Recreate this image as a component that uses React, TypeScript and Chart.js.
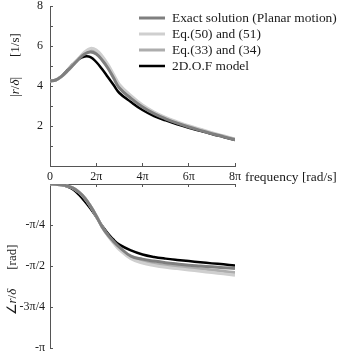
import React, { useEffect, useRef } from 'react';
import { Chart, registerables } from 'chart.js';

Chart.register(...registerables);

// frequency in units of π rad/s
const freqPi = [0, 0.25, 0.5, 0.75, 1, 1.25, 1.5, 1.75, 2, 2.25, 2.5, 2.75, 3, 3.5, 4, 4.5, 5, 5.5, 6, 6.5, 7, 7.5, 8];

// |r/δ| [1/s]
const magExact = [4.25, 4.3, 4.48, 4.75, 5.05, 5.35, 5.6, 5.7, 5.6, 5.3, 4.9, 4.4, 3.9, 3.38, 2.95, 2.62, 2.36, 2.14, 1.95, 1.78, 1.62, 1.47, 1.32];
const magEq50 = [4.25, 4.3, 4.48, 4.75, 5.07, 5.4, 5.7, 5.88, 5.8, 5.5, 5.08, 4.58, 4.08, 3.52, 3.05, 2.7, 2.43, 2.21, 2.01, 1.84, 1.67, 1.51, 1.35];
const magEq33 = [4.25, 4.3, 4.48, 4.75, 5.06, 5.38, 5.66, 5.8, 5.7, 5.4, 4.98, 4.48, 3.98, 3.45, 3.0, 2.66, 2.39, 2.17, 1.98, 1.81, 1.64, 1.49, 1.33];
const mag2DOF = [4.25, 4.3, 4.5, 4.8, 5.1, 5.35, 5.48, 5.45, 5.2, 4.85, 4.45, 4.05, 3.65, 3.2, 2.8, 2.5, 2.28, 2.08, 1.91, 1.76, 1.6, 1.45, 1.3];

// ∠r/δ in units of π rad
const phaseExact = [0, -0.002, -0.005, -0.012, -0.025, -0.05, -0.085, -0.135, -0.195, -0.26, -0.31, -0.35, -0.385, -0.44, -0.458, -0.47, -0.48, -0.488, -0.495, -0.5, -0.505, -0.51, -0.515];
const phaseEq50 = [0, -0.002, -0.005, -0.012, -0.025, -0.05, -0.085, -0.135, -0.195, -0.26, -0.315, -0.36, -0.4, -0.455, -0.482, -0.497, -0.508, -0.516, -0.524, -0.532, -0.54, -0.548, -0.556];
const phaseEq33 = [0, -0.002, -0.005, -0.012, -0.025, -0.05, -0.085, -0.135, -0.195, -0.26, -0.312, -0.355, -0.392, -0.448, -0.47, -0.485, -0.495, -0.503, -0.51, -0.517, -0.524, -0.532, -0.54];
const phase2DOF = [0, -0.002, -0.006, -0.015, -0.033, -0.065, -0.105, -0.15, -0.2, -0.255, -0.3, -0.34, -0.37, -0.405, -0.43, -0.445, -0.455, -0.463, -0.47, -0.477, -0.484, -0.49, -0.497];

const seriesLabels = ['Exact solution (Planar motion)', 'Eq.(50) and (51)', 'Eq.(33) and (34)', '2D.O.F model'];
const seriesColors = ['#7f7f7f', '#cfcfcf', '#adadad', '#000000'];
const seriesWidths = [3, 3, 3, 2.5];

const xTickValues = [0, 2, 4, 6, 8];
const xTickLabels = ['0', '2π', '4π', '6π', '8π'];
const magTickValues = [0, 1, 2, 3, 4, 5, 6, 7, 8];
const magTickLabels = ['', '', '2', '', '4', '', '6', '', '8'];
const phaseTickValues = [0, -0.25, -0.5, -0.75, -1];
const phaseTickLabels = ['', '-π/4', '-π/2', '-3π/4', '-π'];

const FONT = '"Liberation Serif", "Times New Roman", serif';
const AXIS = '#555555';
const TEXT = '#1a1a1a';

type Part = { text?: string; italic?: boolean; gap?: number };

function drawRotated(ctx: CanvasRenderingContext2D, parts: Part[], cx: number, cy: number) {
  ctx.save();
  ctx.translate(cx, cy);
  ctx.rotate(-Math.PI / 2);
  ctx.textBaseline = 'middle';
  ctx.textAlign = 'left';
  ctx.fillStyle = TEXT;
  const font = (p: Part) => `${p.italic ? 'italic ' : ''}13px ${FONT}`;
  const widths = parts.map((p) => {
    if (p.gap !== undefined) return p.gap;
    ctx.font = font(p);
    return ctx.measureText(p.text || '').width;
  });
  const total = widths.reduce((a, b) => a + b, 0);
  let x = -total / 2;
  parts.forEach((p, i) => {
    if (p.text) {
      ctx.font = font(p);
      ctx.fillText(p.text, x, 0);
    }
    x += widths[i];
  });
  ctx.restore();
}

function makeDatasets(series: number[][]) {
  return series.map((vals, i) => ({
    label: seriesLabels[i],
    data: freqPi.map((f, j) => ({ x: f, y: vals[j] })),
    borderColor: seriesColors[i],
    backgroundColor: seriesColors[i],
    borderWidth: seriesWidths[i],
    pointRadius: 0,
    tension: 0.4,
    fill: false,
  }));
}

function axisGrid() {
  return {
    display: true,
    drawOnChartArea: false,
    drawTicks: true,
    tickLength: -3,
    color: AXIS,
    lineWidth: 1,
  };
}

export default function App() {
  const topRef = useRef<HTMLCanvasElement>(null);
  const botRef = useRef<HTMLCanvasElement>(null);

  useEffect(() => {
    const topPlugin = {
      id: 'topDecor',
      afterDraw(chart: any) {
        const ctx = chart.ctx as CanvasRenderingContext2D;
        const area = chart.chartArea;
        ctx.save();
        chart.data.datasets.forEach((ds: any, i: number) => {
          const y = 18 + i * 16;
          ctx.strokeStyle = ds.borderColor;
          ctx.lineWidth = ds.borderWidth;
          ctx.beginPath();
          ctx.moveTo(139, y);
          ctx.lineTo(165, y);
          ctx.stroke();
          ctx.fillStyle = TEXT;
          ctx.font = `13.4px ${FONT}`;
          ctx.textBaseline = 'middle';
          ctx.textAlign = 'left';
          ctx.fillText(ds.label, 172, y + 0.5);
        });
        const xs = chart.scales.x;
        ctx.fillText('frequency [rad/s]', area.right + 10, xs.top + 11.5);
        ctx.restore();
        drawRotated(ctx, [
          { text: '|' }, { text: 'r', italic: true }, { text: '/' }, { text: 'δ', italic: true }, { text: '|' },
          { gap: 20 },
          { text: '[1/s]' },
        ], 16, 65);
      },
    };

    const botPlugin = {
      id: 'botDecor',
      afterDraw(chart: any) {
        const ctx = chart.ctx as CanvasRenderingContext2D;
        drawRotated(ctx, [
          { text: '∠' }, { text: 'r', italic: true }, { text: '/' }, { text: 'δ', italic: true },
          { gap: 19 },
          { text: '[rad]' },
        ], 13, 100);
      },
    };

    const tickFont = { family: FONT, size: 12 };

    const top = new Chart(topRef.current!, {
      type: 'line',
      data: { datasets: makeDatasets([magExact, magEq50, magEq33, mag2DOF]) as any },
      options: {
        animation: false,
        responsive: false,
        events: [],
        layout: { padding: { left: 0, right: 110, top: 6, bottom: 0 } },
        plugins: { legend: { display: false }, tooltip: { enabled: false } },
        scales: {
          x: {
            type: 'linear',
            position: 'bottom',
            min: 0,
            max: 8,
            afterBuildTicks: (s: any) => { s.ticks = xTickValues.map((v) => ({ value: v })); },
            afterFit: (s: any) => { s.height = 19; s.paddingLeft = 0; s.paddingRight = 0; },
            ticks: {
              callback: (_v: any, i: number) => xTickLabels[i],
              font: tickFont,
              color: TEXT,
              padding: 7,
              maxRotation: 0,
              autoSkip: false,
            },
            grid: axisGrid(),
            border: { display: true, color: AXIS, width: 1 },
          },
          y: {
            type: 'linear',
            position: 'left',
            min: 0,
            max: 8,
            afterBuildTicks: (s: any) => { s.ticks = magTickValues.map((v) => ({ value: v })); },
            afterFit: (s: any) => { s.width = 50; s.paddingTop = 0; s.paddingBottom = 0; },
            ticks: {
              callback: (_v: any, i: number) => magTickLabels[i],
              font: tickFont,
              color: TEXT,
              padding: 10,
              autoSkip: false,
            },
            grid: axisGrid(),
            border: { display: true, color: AXIS, width: 1 },
          },
        },
      } as any,
      plugins: [topPlugin],
    });

    const bot = new Chart(botRef.current!, {
      type: 'line',
      data: { datasets: makeDatasets([phaseExact, phaseEq50, phaseEq33, phase2DOF]) as any },
      options: {
        animation: false,
        responsive: false,
        events: [],
        layout: { padding: { left: 0, right: 110, top: 4, bottom: 5 } },
        plugins: { legend: { display: false }, tooltip: { enabled: false } },
        scales: {
          x: {
            type: 'linear',
            position: 'top',
            min: 0,
            max: 8,
            afterBuildTicks: (s: any) => { s.ticks = xTickValues.map((v) => ({ value: v })); },
            afterFit: (s: any) => { s.height = 0; s.paddingLeft = 0; s.paddingRight = 0; },
            ticks: { display: false },
            grid: axisGrid(),
            border: { display: true, color: AXIS, width: 1 },
          },
          y: {
            type: 'linear',
            position: 'left',
            min: -1,
            max: 0,
            afterBuildTicks: (s: any) => { s.ticks = phaseTickValues.map((v) => ({ value: v })); },
            afterFit: (s: any) => { s.width = 50; s.paddingTop = 0; s.paddingBottom = 0; },
            ticks: {
              callback: (_v: any, i: number) => phaseTickLabels[i],
              font: tickFont,
              color: TEXT,
              padding: 8,
              autoSkip: false,
            },
            grid: axisGrid(),
            border: { display: true, color: AXIS, width: 1 },
          },
        },
      } as any,
      plugins: [botPlugin],
    });

    return () => {
      top.destroy();
      bot.destroy();
    };
  }, []);

  return (
    <div style={{ position: 'fixed', left: 0, top: 0, width: 345, height: 353, background: '#ffffff' }}>
      <canvas ref={topRef} width={345} height={185} style={{ position: 'absolute', left: 0, top: 0, width: 345, height: 185 }} />
      <canvas ref={botRef} width={345} height={173} style={{ position: 'absolute', left: 0, top: 180, width: 345, height: 173 }} />
    </div>
  );
}
